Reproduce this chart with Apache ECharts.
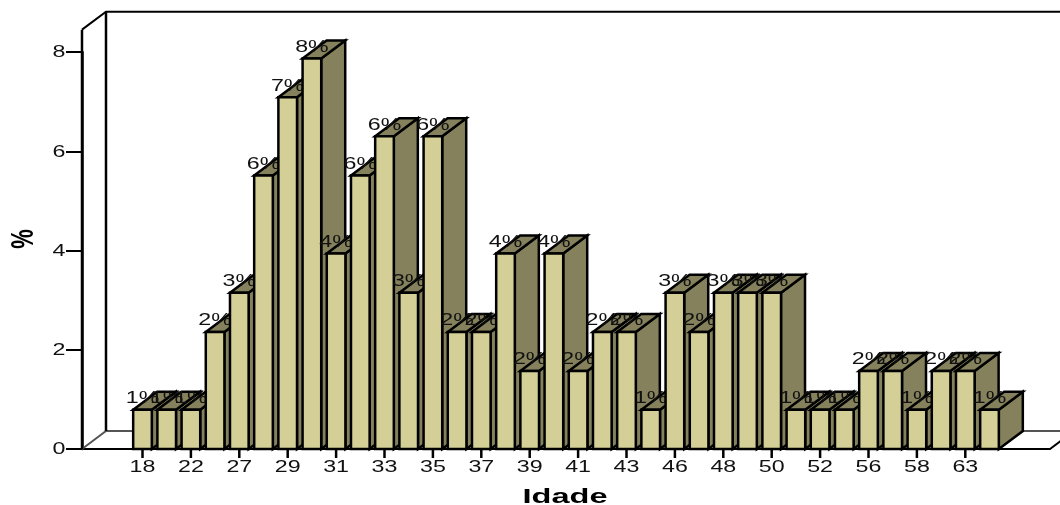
<!DOCTYPE html>
<html>
<head>
<meta charset="utf-8">
<style>
  html, body { margin: 0; padding: 0; background: #fff; }
  #main { width: 1060px; height: 505px; }
</style>
</head>
<body>
<div id="main"></div>
<script src="https://cdn.jsdelivr.net/npm/echarts@6/dist/echarts.min.js"></script>
<script>
// ages, only every other one is printed on the axis
var ages = ['18', '20', '22', '25', '27', '28', '29', '30', '31', '32', '33', '34',
            '35', '36', '37', '38', '39', '40', '41', '42', '43', '45', '46', '47',
            '48', '49', '50', '51', '52', '55', '56', '57', '58', '60', '63', '65'];
var percents = [0.79, 0.79, 0.79, 2.36, 3.15, 5.51, 7.09, 7.87, 3.94, 5.51, 6.30, 3.15,
                6.30, 2.36, 2.36, 3.94, 1.57, 3.94, 1.57, 2.36, 2.36, 0.79, 3.15, 2.36,
                3.15, 3.15, 3.15, 0.79, 0.79, 0.79, 1.57, 1.57, 0.79, 1.57, 1.57, 0.79];
var barLabels = ['1%', '1%', '1%', '2%', '3%', '6%', '7%', '8%', '4%', '6%', '6%', '3%',
                 '6%', '2%', '2%', '4%', '2%', '4%', '2%', '2%', '2%', '1%', '3%', '2%',
                 '3%', '3%', '3%', '1%', '1%', '1%', '2%', '2%', '1%', '2%', '2%', '1%'];
var yTicks = [0, 2, 4, 6, 8];

var PAD = 2;           // empty bands each side of the bars
var DX = 24, DY = 18;  // 3d depth in pixels
var FRONT = '#d3cf97', SIDE = '#84815c', INK = '#000';
var STRETCH = 1.45;    // the text in the picture is wider than any installed font
var LABEL_FONT = '16px "Liberation Sans"';

var categories = [];
for (var i = 0; i < PAD; i++) categories.push('');
categories = categories.concat(ages);
for (var j = 0; j < PAD; j++) categories.push('');

// every other age gets a tick and a label
var printedIdx = [];
for (var k = 0; k < ages.length; k += 2) printedIdx.push(k + PAD);

function renderWalls(params, api) {
  var band = api.size([1, 0])[0];
  var bottom = api.coord([0, 0]);
  var top = api.coord([0, 8.45]);
  var left = bottom[0] - band / 2;
  var right = api.coord([categories.length - 1, 0])[0] + band / 2;
  var line = { stroke: INK, lineWidth: 2.5, fill: null };
  return {
    type: 'group',
    children: [
      { type: 'polyline', shape: { points: [[left, bottom[1]], [left + DX, bottom[1] - DY], [1060, bottom[1] - DY]] },
        style: { stroke: '#555', lineWidth: 2, fill: null } },
      { type: 'polyline', shape: { points: [[left, top[1]], [left + DX, top[1] - DY], [1060, top[1] - DY]] },
        style: { stroke: INK, lineWidth: 2, fill: null } },
      { type: 'line', shape: { x1: left + DX, y1: top[1] - DY, x2: left + DX, y2: bottom[1] - DY }, style: line },
      { type: 'line', shape: { x1: left, y1: top[1], x2: left, y2: bottom[1] }, style: line },
      { type: 'line', shape: { x1: right, y1: bottom[1], x2: right + DX, y2: bottom[1] - DY }, style: { stroke: INK, lineWidth: 2 } }
    ]
  };
}

function renderBar(params, api) {
  var idx = api.value(0);
  var topPt = api.coord([idx, api.value(1)]);
  var basePt = api.coord([idx, 0]);
  var w = api.size([1, 0])[0] * 0.77;
  var l = topPt[0] - w / 2, r = topPt[0] + w / 2;
  var t = topPt[1], b = basePt[1];
  var edge = { stroke: INK, lineWidth: 2.5, lineJoin: 'miter' };
  return {
    type: 'group',
    children: [
      { type: 'polygon', shape: { points: [[r, t], [r + DX, t - DY], [r + DX, b - DY], [r, b]] },
        style: Object.assign({ fill: SIDE }, edge) },
      { type: 'polygon', shape: { points: [[l, t], [l + DX, t - DY], [r + DX, t - DY], [r, t]] },
        style: Object.assign({ fill: SIDE }, edge) },
      { type: 'rect', shape: { x: l, y: t, width: w, height: b - t },
        style: Object.assign({ fill: FRONT }, edge) },
      { type: 'text', x: topPt[0], y: t - 11, scaleX: STRETCH,
        style: { text: barLabels[params.dataIndex], align: 'center', verticalAlign: 'middle',
                 font: LABEL_FONT, fill: '#111' } }
    ]
  };
}

// ticks and tick labels are drawn here and not by the axis, the axis label cannot be stretched
function renderXLabel(params, api) {
  var p = api.coord([api.value(0), 0]);
  return {
    type: 'group',
    children: [
      { type: 'line', shape: { x1: p[0], y1: p[1], x2: p[0], y2: p[1] + 9 }, style: { stroke: INK, lineWidth: 2.5 } },
      { type: 'text', x: p[0], y: p[1] + 19, scaleX: STRETCH,
        style: { text: categories[api.value(0)], align: 'center', verticalAlign: 'middle', font: LABEL_FONT, fill: '#111' } }
    ]
  };
}
function renderYLabel(params, api) {
  var p = api.coord([0, api.value(1)]);
  return { type: 'text', x: 59, y: p[1] + 1, scaleX: STRETCH,
    style: { text: String(api.value(1)), align: 'center', verticalAlign: 'middle', font: LABEL_FONT, fill: '#111' } };
}

var chart = echarts.init(document.getElementById('main'));
chart.setOption({
  animation: false,
  grid: { left: 82, top: 52, width: 968, height: 397, containLabel: false },
  graphic: [
    { type: 'text', x: 565, y: 497, scaleX: 1.55,
      style: { text: 'Idade', align: 'center', verticalAlign: 'middle',
               font: 'bold 21px "Liberation Sans"', fill: '#000' } },
    { type: 'text', x: 24, y: 239, rotation: Math.PI / 2, scaleY: STRETCH,
      style: { text: '%', align: 'center', verticalAlign: 'middle',
               font: 'bold 22px "Liberation Sans"', fill: '#000' } }
  ],
  xAxis: {
    type: 'category',
    data: categories,
    axisLine: { lineStyle: { color: INK, width: 2 } },
    axisTick: { show: false },
    axisLabel: { show: false },
    splitLine: { show: false }
  },
  yAxis: {
    type: 'value',
    min: 0,
    max: 8,
    interval: 2,
    axisLine: { show: true, lineStyle: { color: INK, width: 2.5 } },
    axisTick: { show: true, length: 16, lineStyle: { color: INK, width: 2 } },
    axisLabel: { show: false },
    splitLine: { show: false }
  },
  series: [
    { type: 'custom', z: 1, silent: true, clip: false, renderItem: renderWalls, data: [[0, 0]] },
    {
      type: 'custom',
      z: 2,
      silent: true,
      clip: false,
      renderItem: renderBar,
      encode: { x: 0, y: 1 },
      data: percents.map(function (v, n) { return [n + PAD, v]; })
    },
    {
      type: 'custom', z: 3, silent: true, clip: false, renderItem: renderXLabel,
      data: printedIdx.map(function (n) { return [n, 0]; })
    },
    {
      type: 'custom', z: 3, silent: true, clip: false, renderItem: renderYLabel,
      data: yTicks.map(function (v) { return [0, v]; })
    }
  ]
});
</script>
</body>
</html>
